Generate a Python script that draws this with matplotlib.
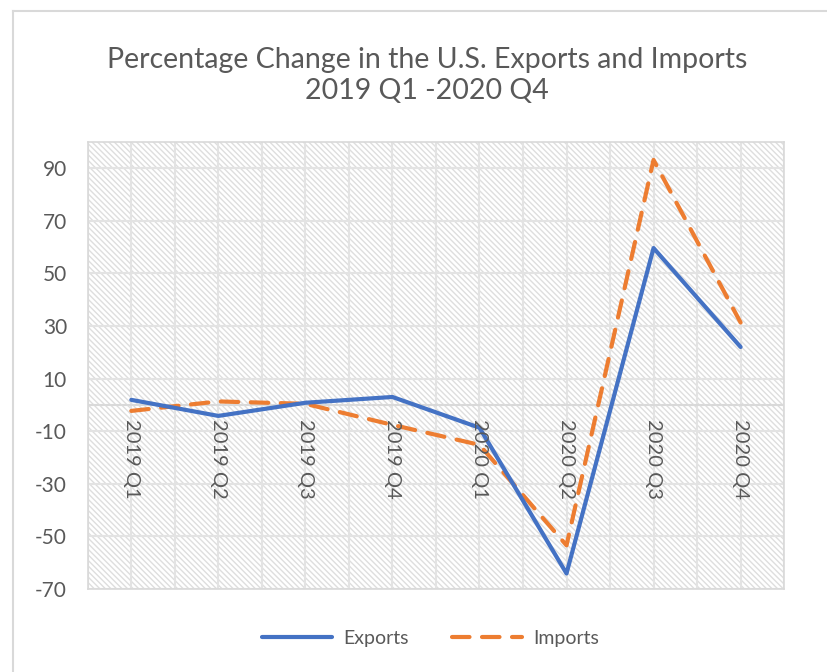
import numpy as np
import matplotlib
matplotlib.use('Agg')
import matplotlib.pyplot as plt
from matplotlib.patches import Rectangle
from matplotlib.lines import Line2D

matplotlib.rcParams['font.family'] = ['Lato', 'DejaVu Sans']
matplotlib.rcParams['axes.unicode_minus'] = False
matplotlib.rcParams['hatch.linewidth'] = 1.0

quarters = ['2019 Q1', '2019 Q2', '2019 Q3', '2019 Q4',
            '2020 Q1', '2020 Q2', '2020 Q3', '2020 Q4']
exports = [1.9, -4.2, 0.8, 3.0, -8.7, -64.1, 59.6, 22.0]
imports = [-2.3, 1.3, 0.4, -7.6, -15.2, -53.4, 93.1, 31.3]
yticks = [-70, -50, -30, -10, 10, 30, 50, 70, 90]

grey = '#595959'
gridc = '#d9d9d9'

fig = plt.figure(figsize=(8.28, 6.72), dpi=100)
ax = fig.add_axes([0.106, 0.1235, 0.841, 0.6655])

# hatched plot area
ax.patch.set_visible(False)
ax.add_patch(Rectangle((0, 0), 1, 1, transform=ax.transAxes, facecolor='white',
                       edgecolor='#dedede', linewidth=0, hatch='\\\\\\\\\\\\', zorder=0))

x = np.arange(len(quarters))
for yv in yticks:
    ax.axhline(yv, color='#e3e3e3', lw=1.5, zorder=1)
for xv in np.arange(-0.5, len(quarters), 0.5):
    ax.axvline(xv, color='#e3e3e3', lw=1.5, zorder=1)
ax.axhline(0, color=gridc, lw=1.5, zorder=2)

ax.plot(x, exports, color='#4472C4', lw=3, solid_capstyle='round', zorder=4, label='Exports')
ax.plot(x, imports, color='#ED7D31', lw=3, dashes=(4.2, 3.0), dash_capstyle='round',
        zorder=3, label='Imports')

ax.set_xlim(-0.5, len(quarters) - 0.5)
ax.set_ylim(-70, 100)
ax.set_yticks(yticks)
ax.tick_params(axis='y', length=0, pad=15, labelsize=15, labelcolor=grey)
ax.set_xticks([])
for sp in ax.spines.values():
    sp.set_color(gridc)
    sp.set_linewidth(1.2)

for xi, q in zip(x, quarters):
    ax.text(xi, -5.5, q, rotation=270, ha='center', va='top', fontsize=14.5, color=grey, zorder=5)

fig.text(0.516, 0.888, 'Percentage Change in the U.S. Exports and Imports\n2019 Q1 -2020 Q4',
         ha='center', va='center', fontsize=20.5, color=grey, linespacing=1.25)

handles = [Line2D([], [], color='#4472C4', lw=3, solid_capstyle='round'),
           Line2D([], [], color='#ED7D31', lw=3, dashes=(4.2, 3.0), dash_capstyle='round')]
fig.legend(handles, ['Exports', 'Imports'], loc='center', bbox_to_anchor=(0.52, 0.05),
           ncol=2, frameon=False, fontsize=14, labelcolor=grey, handlelength=3.6,
           columnspacing=2.2, handletextpad=0.6)

# chart area border (top and left visible)
fig.add_artist(Line2D([0.0157, 0.0157], [0, 0.984], color=gridc, lw=1.5, transform=fig.transFigure))
fig.add_artist(Line2D([0.0157, 1.0], [0.984, 0.984], color=gridc, lw=1.5, transform=fig.transFigure))

fig.savefig('out.png', dpi=100)
